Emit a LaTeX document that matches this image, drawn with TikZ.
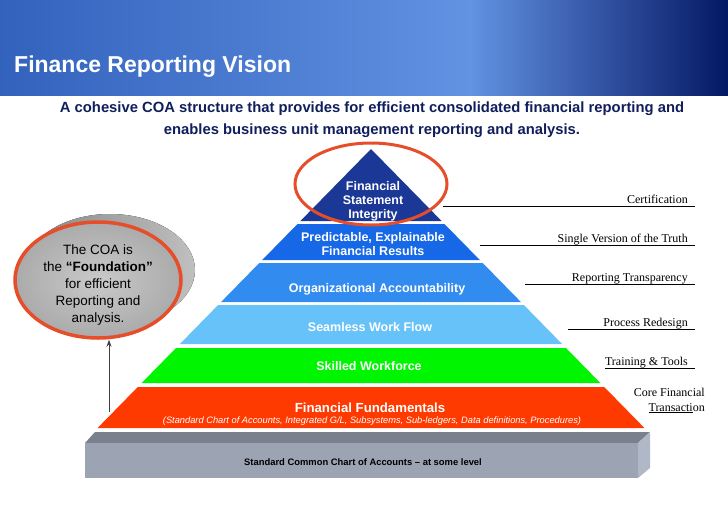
\documentclass[tikz,border=0pt]{standalone}
\usepackage{fontspec}
\setmainfont{Liberation Serif}
\setsansfont{Liberation Sans}
\usetikzlibrary{shapes.geometric, arrows.meta, positioning, calc}
\definecolor{hdrA}{RGB}{50,98,188}
\definecolor{hdrB}{RGB}{98,146,226}
\definecolor{hdrC}{RGB}{4,24,100}
\definecolor{navyText}{RGB}{16,30,92}
\definecolor{tierA}{RGB}{28,56,150}
\definecolor{tierB}{RGB}{22,104,230}
\definecolor{tierC}{RGB}{50,140,240}
\definecolor{tierD}{RGB}{104,194,250}
\definecolor{tierE}{RGB}{0,245,0}
\definecolor{tierF}{RGB}{255,58,0}
\definecolor{baseTop}{RGB}{122,128,140}
\definecolor{baseFront}{RGB}{156,164,180}
\definecolor{baseSide}{RGB}{176,184,200}
\definecolor{ringRed}{RGB}{230,78,42}
\tikzset{
  hdr/title/.style={font=\sffamily\bfseries\fontsize{23}{27}\selectfont\color{white},
    inner sep=0pt},
  hdr/sub/.style={font=\sffamily\bfseries\fontsize{14.8}{22}\selectfont\color{navyText},
    align=center, inner sep=0pt},
  pyr/tier/.style={font=\sffamily\bfseries\fontsize{12.5}{14.5}\selectfont\color{white},
    align=center, inner sep=0pt},
  pyr/small/.style={font=\sffamily\itshape\fontsize{9.3}{10}\selectfont\color{white},
    inner sep=0pt},
  pyr/base/.style={font=\sffamily\bfseries\fontsize{9.4}{11}\selectfont\color{black},
    inner sep=0pt},
  pyr/note/.style={font=\rmfamily\fontsize{12}{16}\selectfont, inner sep=0pt,
    anchor=base east},
  pyr/rule/.style={line width=0.9pt, draw=black},
  coa/bubble/.style={ellipse, draw=ringRed, line width=3.5pt,
    inner color=gray!42, outer color=gray!66,
    minimum width=166pt, minimum height=116pt, inner sep=0pt},
  coa/text/.style={font=\sffamily\fontsize{13.5}{17}\selectfont, align=center,
    inner sep=0pt},
  coa/ring/.style={ellipse, draw=ringRed, line width=3pt,
    minimum width=152pt, minimum height=82pt}
}
\begin{document}
\begin{tikzpicture}[x=1pt, y=-1pt]
  \useasboundingbox (0,0) rectangle (728,504);
  % header band
  \shade[left color=hdrA, right color=hdrB] (0,0) rectangle (470,95);
  \shade[left color=hdrB, right color=hdrC] (470,0) rectangle (728,95);
  \node[hdr/title, anchor=base west] (title) at (14,72) {Finance Reporting Vision};
  \node[hdr/sub] (sub) at (372,120) {A cohesive COA structure that provides for
    efficient consolidated financial reporting and\\enables business unit
    management reporting and analysis.};

  % pyramid tiers
  \fill[tierA] (371,149) -- (441.6,221) -- (300.4,221) -- cycle;
  \foreach \yt/\yb/\col in {224/260/tierB, 263/302/tierC, 305/344/tierD,
                            348/383/tierE, 387/428/tierF}
    \fill[\col] ({371-0.98*(\yt-149)},\yt) -- ({371+0.98*(\yt-149)},\yt)
      -- ({371+0.98*(\yb-149)},\yb) -- ({371-0.98*(\yb-149)},\yb) -- cycle;

  % base slab
  \fill[baseTop] (85,443) -- (95,432) -- (650,432) -- (638,443) -- cycle;
  \fill[baseSide] (638,443) -- (650,432) -- (650,468) -- (638,478) -- cycle;
  \fill[baseFront] (85,443) rectangle (638,478);

  \node[pyr/tier, font=\sffamily\bfseries\fontsize{12.5}{14}\selectfont\color{white}]
    (fsi) at (373,201) {Financial\\Statement\\Integrity};
  \node[pyr/tier] (pef) at (373,244) {Predictable, Explainable\\Financial Results};
  \node[pyr/tier] (oa) at (377,289) {Organizational Accountability};
  \node[pyr/tier] (swf) at (370,327) {Seamless Work Flow};
  \node[pyr/tier] (sw) at (369,366) {Skilled Workforce};
  \node[pyr/tier, font=\sffamily\bfseries\fontsize{13.2}{15}\selectfont\color{white}]
    (ff) at (370,408) {Financial Fundamentals};
  \node[pyr/small] (ffsub) at (372,421.5) {(Standard Chart of Accounts,
    Integrated G/L, Subsystems, Sub-ledgers, Data definitions, Procedures)};
  \node[pyr/base] (scoa) at (363,462) {Standard Common Chart of Accounts -- at some level};

  % ring round the top
  \node[coa/ring] (ring) at (371,184) {};

  % leaders on the right
  \coordinate (rim) at (695,0);
  \coordinate (l1) at (443,206);
  \coordinate (l2) at (480,245);
  \coordinate (l3) at (525,284);
  \coordinate (l4) at (568,329);
  \coordinate (l5) at (605,368);
  \node[pyr/note] (cert) at (688,203) {Certification};
  \node[pyr/note] (svt) at (688,242) {Single Version of the Truth};
  \node[pyr/note] (rt) at (688,281) {Reporting Transparency};
  \node[pyr/note] (pr) at (688,326) {Process Redesign};
  \node[pyr/note] (tt) at (688,365) {Training \& Tools};
  \node[pyr/note] (cft) at (705,396) {Core Financial};
  \node[pyr/note] (tra) at (705,411) {\underline{Transacti}on};
  \draw[pyr/rule] (l1) -- (l1 -| rim);
  \draw[pyr/rule] (l2) -- (l2 -| rim);
  \draw[pyr/rule] (l3) -- (l3 -| rim);
  \draw[pyr/rule] (l4) -- (l4 -| rim);
  \draw[pyr/rule] (l5) -- (l5 -| rim);

  % foundation bubble
  \fill[left color=gray!95, right color=gray!50] (110,270) ellipse (85 and 56);
  \node[coa/bubble] (coa) at (98,280) {};
  \node[coa/text] (coatext) at (98,285) {The COA is\\the \textbf{“Foundation”}\\for
    efficient\\Reporting and\\analysis.};
  \coordinate (foot) at (109,412);
  \draw[-{Stealth[length=7pt,width=5pt]}, line width=0.9pt, draw=black!75]
    (foot) -- (foot |- coa.south);
\end{tikzpicture}
\end{document}
